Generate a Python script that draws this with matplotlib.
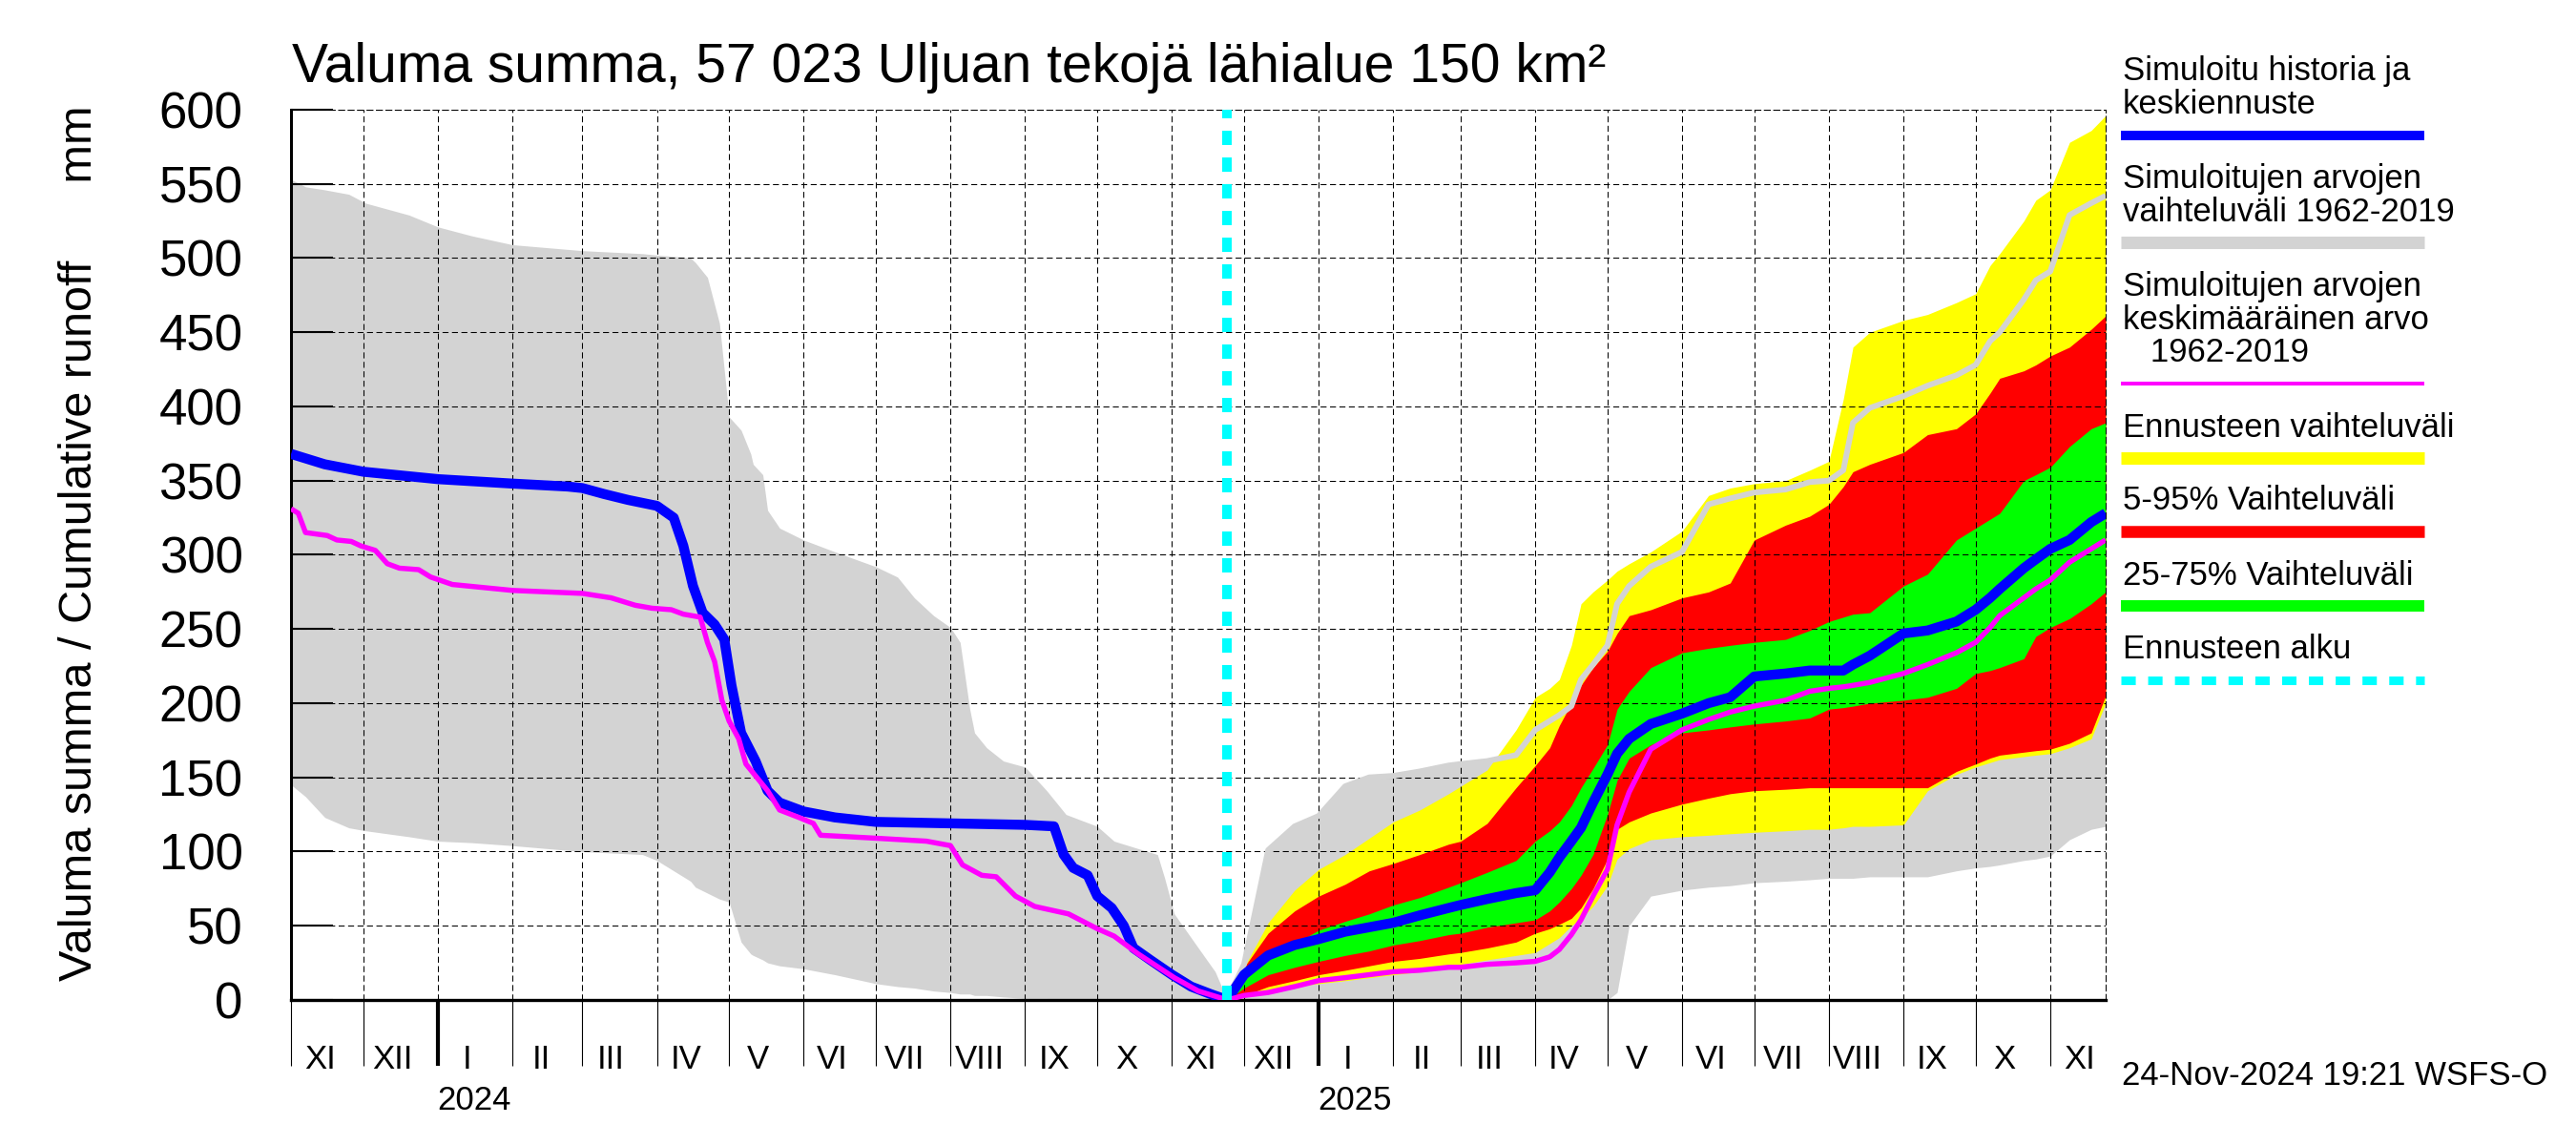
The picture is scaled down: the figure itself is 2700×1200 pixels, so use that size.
import matplotlib
matplotlib.use("Agg")
import matplotlib.pyplot as plt
import matplotlib.dates as mdates
from matplotlib.ticker import MultipleLocator, NullFormatter, FuncFormatter
from matplotlib.lines import Line2D
import pandas as pd

plt.rcParams['font.family'] = ['Liberation Sans', 'DejaVu Sans']

# ---------------- data ----------------
title_text = "Valuma summa, 57 023 Uljuan tekojä lähialue 150 km²"
ylabel_text = "Valuma summa / Cumulative runoff      mm"
stamp_text = "24-Nov-2024 19:21 WSFS-O"
forecast_start = "2024-11-24"
x_start, x_end = "2023-11-01", "2025-11-24"
roman = ["I", "II", "III", "IV", "V", "VI", "VII", "VIII", "IX", "X", "XI", "XII"]
year_labels = ["2024", "2025"]
year_label_dates = ["2024-01-16", "2025-01-16"]

# history: range of simulated values 1962-2019
hist_dates = ['2023-11-01', '2023-11-07', '2023-11-15', '2023-11-25', '2023-12-02', '2023-12-20',
              '2024-01-01', '2024-01-15', '2024-02-01', '2024-03-01', '2024-03-26', '2024-04-01',
              '2024-04-09', '2024-04-15', '2024-04-17', '2024-04-22', '2024-04-27', '2024-05-01',
              '2024-05-06', '2024-05-10', '2024-05-11', '2024-05-15', '2024-05-17', '2024-05-22',
              '2024-06-01', '2024-06-14', '2024-07-01', '2024-07-10', '2024-07-17', '2024-07-25',
              '2024-08-01', '2024-08-05', '2024-08-09', '2024-08-11', '2024-08-16', '2024-08-23',
              '2024-09-01', '2024-09-10', '2024-09-18', '2024-10-01', '2024-10-08', '2024-10-26',
              '2024-10-29', '2024-11-02', '2024-11-12', '2024-11-19', '2024-11-24']
hist_hi = [553, 548, 546, 543, 537, 529, 521, 515, 509, 505, 503, 502, 501, 500, 497, 487, 456,
           393, 384, 368, 361, 354, 330, 318, 310, 302, 292, 285, 271, 259, 251, 241, 196, 180,
           170, 161, 157, 141, 125, 117, 107, 98, 82, 58, 35, 19, 0]
hist_lo = [145, 137, 123, 116, 114, 110, 107, 106, 104, 100, 98, 94, 86, 80, 76, 72, 68, 66, 39,
           31, 30, 27, 25, 23, 21, 17, 11, 9, 8, 6, 5, 4, 4, 3, 3, 2, 1, 1, 0, 0, 0, 0, 0, 0, 0, 0, 0]

# history: simulated (blue)
sim_hist_dates = ['2023-11-01', '2023-11-07', '2023-11-15', '2023-12-01', '2024-01-01', '2024-02-01',
                  '2024-02-24', '2024-03-01', '2024-03-10', '2024-03-20', '2024-04-01', '2024-04-08',
                  '2024-04-12', '2024-04-16', '2024-04-20', '2024-04-25', '2024-04-29', '2024-05-02',
                  '2024-05-06', '2024-05-12', '2024-05-17', '2024-05-22', '2024-06-01', '2024-06-14',
                  '2024-07-01', '2024-08-01', '2024-09-01', '2024-09-13', '2024-09-17', '2024-09-21',
                  '2024-09-27', '2024-10-01', '2024-10-07', '2024-10-12', '2024-10-16', '2024-10-23',
                  '2024-11-01', '2024-11-09', '2024-11-17', '2024-11-24']
sim_hist = [368, 365, 361, 356, 351, 348, 346, 345, 341, 337, 333, 325, 306, 279, 261, 253, 243,
            212, 180, 161, 141, 133, 127, 123, 120, 119, 118, 117, 98, 89, 84, 70, 62, 50, 35, 27,
            17, 9, 4, 0]

# history: mean of simulated values (magenta)
mean_hist_dates = ['2023-11-01', '2023-11-04', '2023-11-07', '2023-11-16', '2023-11-20', '2023-11-26',
                   '2023-11-30', '2023-12-06', '2023-12-11', '2023-12-16', '2023-12-24', '2023-12-29',
                   '2024-01-07', '2024-02-01', '2024-03-01', '2024-03-13', '2024-03-23', '2024-03-30',
                   '2024-04-07', '2024-04-12', '2024-04-19', '2024-04-22', '2024-04-25', '2024-04-28',
                   '2024-05-01', '2024-05-05', '2024-05-08', '2024-05-12', '2024-05-17', '2024-05-22',
                   '2024-05-30', '2024-06-05', '2024-06-08', '2024-07-01', '2024-07-22', '2024-08-01',
                   '2024-08-06', '2024-08-14', '2024-08-20', '2024-08-28', '2024-09-05', '2024-09-19',
                   '2024-10-01', '2024-10-08', '2024-10-18', '2024-11-02', '2024-11-12', '2024-11-24']
mean_hist = [331, 328, 315, 313, 310, 309, 306, 303, 294, 291, 290, 285, 280, 276, 274, 271, 266,
             264, 263, 260, 258, 241, 228, 202, 188, 176, 159, 151, 141, 128, 123, 119, 111, 109,
             107, 104, 91, 84, 83, 70, 63, 58, 48, 43, 31, 15, 6, 0]

# forecast period
fc_dates = ['2024-11-24', '2024-12-01', '2024-12-11', '2024-12-22', '2025-01-01', '2025-01-12',
            '2025-01-22', '2025-02-01', '2025-02-12', '2025-02-24', '2025-03-01', '2025-03-12',
            '2025-03-24', '2025-04-01', '2025-04-07', '2025-04-11', '2025-04-16', '2025-04-20',
            '2025-04-25', '2025-05-01', '2025-05-05', '2025-05-10', '2025-05-19', '2025-06-01',
            '2025-06-12', '2025-06-21', '2025-07-01', '2025-07-14', '2025-07-24', '2025-08-01',
            '2025-08-07', '2025-08-11', '2025-08-18', '2025-09-01', '2025-09-11', '2025-09-23',
            '2025-10-01', '2025-10-07', '2025-10-11', '2025-10-21', '2025-10-26', '2025-11-01',
            '2025-11-09', '2025-11-18', '2025-11-24']
fc_range_hi = [0, 24, 101, 117, 124, 144, 150, 151, 154, 158, 159, 161, 165, 182, 188, 192, 198,
               216, 226, 239, 267, 279, 292, 302, 334, 338, 342, 344, 349, 350, 357, 389, 399, 407,
               414, 421, 428, 444, 450, 472, 485, 491, 529, 537, 542]
fc_range_lo = [0, 0, 0, 0, 0, 0, 0, 0, 0, 0, 0, 0, 0, 0, 0, 0, 0, 0, 0, 0, 5, 50, 70, 74, 76, 77,
               79, 80, 81, 82, 82, 82, 83, 83, 83, 87, 89, 90, 91, 94, 95, 97, 108, 115, 117]
fc_min = [0, 2, 7, 9, 11, 13, 15, 17, 19, 23, 24, 27, 30, 32, 38, 42, 50, 55, 63, 77, 95, 102,
          108, 110, 111, 112, 113, 114, 115, 115, 116, 117, 117, 118, 141, 152, 157, 160, 162,
          164, 165, 166, 170, 176, 200]
fc_max = [0, 22, 52, 74, 88, 98, 109, 120, 128, 139, 144, 155, 182, 204, 210, 216, 239, 267, 275,
          283, 289, 294, 302, 316, 340, 345, 348, 350, 357, 363, 405, 440, 450, 458, 462, 470,
          476, 495, 503, 525, 539, 546, 578, 586, 596]
fc_p05 = [0, 3, 9, 13, 17, 20, 23, 26, 28, 31, 32, 35, 39, 45, 48, 51, 55, 62, 75, 95, 115, 120,
          126, 132, 136, 139, 141, 142, 143, 143, 143, 143, 143, 143, 143, 154, 159, 163, 165,
          167, 168, 169, 173, 180, 205]
fc_p95 = [0, 22, 45, 60, 70, 78, 87, 92, 98, 105, 107, 119, 143, 158, 170, 185, 200, 212, 224,
          235, 247, 259, 263, 271, 275, 281, 310, 320, 326, 334, 346, 356, 361, 369, 381, 385, 395,
          409, 419, 424, 428, 434, 440, 452, 461]
fc_p25 = [0, 8, 17, 22, 26, 30, 33, 37, 40, 44, 45, 49, 52, 54, 60, 66, 75, 84, 98, 125, 148, 163,
          172, 180, 182, 184, 186, 188, 190, 196, 197, 198, 200, 202, 204, 210, 220, 222, 224, 230,
          245, 251, 257, 267, 275]
fc_p75 = [0, 20, 33, 38, 47, 53, 58, 64, 69, 76, 79, 86, 94, 107, 114, 120, 131, 143, 156, 172,
          196, 208, 224, 234, 237, 239, 241, 243, 249, 255, 258, 260, 261, 279, 287, 310, 318, 324,
          328, 350, 354, 359, 373, 385, 389]
fc_median = [0, 17, 30, 37, 41, 46, 49, 52, 57, 62, 64, 68, 72, 74, 86, 96, 107, 116, 133, 152,
             166, 176, 186, 193, 200, 204, 218, 220, 222, 222, 222, 226, 232, 247, 249, 255, 263,
             271, 277, 291, 297, 304, 310, 322, 328]
fc_mean = [0, 3, 5, 9, 13, 15, 17, 19, 20, 22, 22, 24, 25, 26, 29, 34, 44, 54, 70, 88, 118, 140,
           169, 182, 189, 194, 198, 202, 208, 210, 211, 212, 214, 220, 226, 234, 241, 251, 259,
           271, 277, 283, 295, 304, 310]

legend_entries = [
    (["Simuloitu historia ja", "keskiennuste"], "blue"),
    (["Simuloitujen arvojen", "vaihteluväli 1962-2019"], "gray"),
    (["Simuloitujen arvojen", "keskimääräinen arvo", "   1962-2019"], "magenta"),
    (["Ennusteen vaihteluväli"], "yellow"),
    (["5-95% Vaihteluväli"], "red"),
    (["25-75% Vaihteluväli"], "green"),
    (["Ennusteen alku"], "cyan"),
]

# ---------------- styles ----------------
C_GRAY = "#d3d3d3"
C_YEL = "#ffff00"
C_RED = "#ff0000"
C_GRN = "#00ff00"
C_BLUE = "#0000ff"
C_MAG = "#ff00ff"
C_CYAN = "#00ffff"

hd = pd.to_datetime(hist_dates)
sd = pd.to_datetime(sim_hist_dates)
md = pd.to_datetime(mean_hist_dates)
fd = pd.to_datetime(fc_dates)

fig = plt.figure(figsize=(27, 12), dpi=100)
ax = fig.add_axes([0.113, 0.1267, 0.8174 - 0.113, 0.9042 - 0.1267])

ax.fill_between(hd, hist_lo, hist_hi, color=C_GRAY, lw=0, zorder=1.0)
ax.fill_between(fd, fc_range_lo, fc_range_hi, color=C_GRAY, lw=0, zorder=1.0)
ax.fill_between(fd, fc_min, fc_max, color=C_YEL, lw=0, zorder=1.1)
ax.fill_between(fd, fc_p05, fc_p95, color=C_RED, lw=0, zorder=1.2)
ax.fill_between(fd, fc_p25, fc_p75, color=C_GRN, lw=0, zorder=1.3)
ax.plot(fd, fc_range_hi, color=C_GRAY, lw=4.3, zorder=3.0, solid_capstyle='butt')
ax.plot(sd, sim_hist, color=C_BLUE, lw=7.5, zorder=3.5, solid_capstyle='butt')
ax.plot(fd, fc_median, color=C_BLUE, lw=7.5, zorder=3.5, solid_capstyle='butt')
ax.plot(md, mean_hist, color=C_MAG, lw=3.9, zorder=4, solid_capstyle='butt')
ax.plot(fd, fc_mean, color=C_MAG, lw=3.9, zorder=4, solid_capstyle='butt')
ax.axvline(pd.Timestamp(forecast_start), color=C_CYAN, lw=7.2,
           linestyle=(0, (1.5, 1.3)), zorder=5)

ax.set_xlim(pd.Timestamp(x_start), pd.Timestamp(x_end))
ax.set_ylim(0, 600)

# grid
ax.set_axisbelow(False)
ax.grid(True, which='major', color='black', linestyle=(0, (6, 3.5)), linewidth=0.75)

# y axis
ax.yaxis.set_major_locator(MultipleLocator(50))
ax.tick_params(axis='y', direction='in', length=32, width=1.5, labelsize=38, pad=36.5)

# x axis
ax.xaxis.set_major_locator(mdates.MonthLocator())
ax.xaxis.set_major_formatter(NullFormatter())
ax.xaxis.set_minor_locator(mdates.MonthLocator(bymonthday=13))
ax.xaxis.set_minor_formatter(FuncFormatter(lambda v, p: roman[mdates.num2date(v).month - 1]))
ax.tick_params(axis='x', which='major', direction='out', length=50, width=0.8)
ax.tick_params(axis='x', which='minor', length=0, labelsize=25, pad=33)

locs = ax.xaxis.get_majorticklocs()
ticks = ax.xaxis.get_major_ticks(len(locs))
for loc, t in zip(locs, ticks):
    if mdates.num2date(loc).month == 1:
        t.tick1line.set_markeredgewidth(3)

for lab, dt in zip(year_labels, year_label_dates):
    ax.text(pd.Timestamp(dt), -0.1127, lab, transform=ax.get_xaxis_transform(),
            ha='center', va='center', fontsize=25)

# spines
ax.spines['left'].set_linewidth(2.2)
ax.spines['bottom'].set_linewidth(2.4)
for s in ['top', 'right']:
    ax.spines[s].set_linestyle((0, (6, 3.5)))
    ax.spines[s].set_linewidth(0.75)

# texts
fig.text(0.1133, 0.928, title_text, fontsize=41, ha='left', va='baseline')
fig.text(0.031, 0.526, ylabel_text, rotation=90, ha='center', va='center', fontsize=35)
fig.text(0.8237, 0.0604, stamp_text, fontsize=25, ha='left', va='center')

# legend (manual, figure coords)
line_y = [0.882, 0.788, 0.665, 0.600, 0.536, 0.471, 0.406]
text_y = [[0.9296, 0.9008], [0.836, 0.807], [0.742, 0.7126, 0.684], [0.6186], [0.5546], [0.4895],
          [0.425]]
style = {
    "blue": dict(color=C_BLUE, lw=7.2),
    "gray": dict(color=C_GRAY, lw=9.4),
    "magenta": dict(color=C_MAG, lw=2.9),
    "yellow": dict(color=C_YEL, lw=9.4),
    "red": dict(color=C_RED, lw=9.0),
    "green": dict(color=C_GRN, lw=8.6),
    "cyan": dict(color=C_CYAN, lw=6.5, linestyle=(0, (1.67, 1.44))),
}
for (lines, key), ly, tys in zip(legend_entries, line_y, text_y):
    for txt, ty in zip(lines, tys):
        fig.text(0.824, ty, txt, fontsize=25, ha='left', va='baseline')
    fig.add_artist(Line2D([0.8233, 0.9411], [ly, ly], solid_capstyle='butt', **style[key]))

fig.savefig("out.png", dpi=100)
